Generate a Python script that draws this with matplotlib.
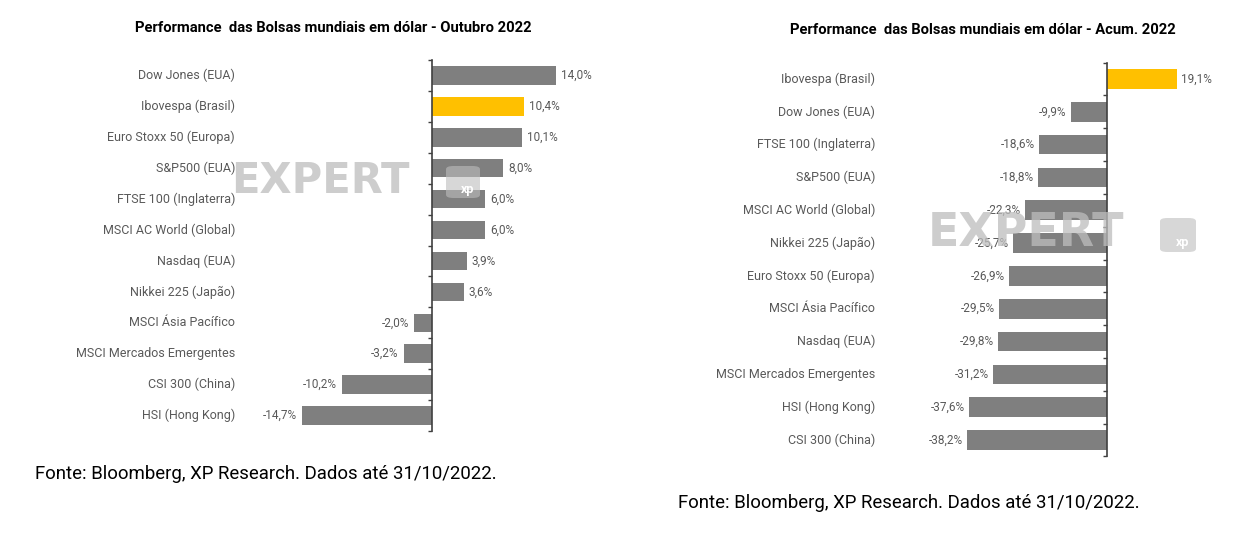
import matplotlib
matplotlib.use('Agg')
import matplotlib.pyplot as plt
from matplotlib.transforms import blended_transform_factory
from matplotlib.patches import FancyBboxPatch

plt.rcParams['font.family'] = ['Roboto', 'DejaVu Sans']

# dados - outubro 2022
oct_names = ["Dow Jones (EUA)", "Ibovespa (Brasil)", "Euro Stoxx 50 (Europa)", "S&P500 (EUA)",
             "FTSE 100 (Inglaterra)", "MSCI AC World (Global)", "Nasdaq (EUA)", "Nikkei 225 (Japão)",
             "MSCI Ásia Pacífico", "MSCI Mercados Emergentes", "CSI 300 (China)", "HSI (Hong Kong)"]
oct_values = [14.0, 10.4, 10.1, 8.0, 6.0, 6.0, 3.9, 3.6, -2.0, -3.2, -10.2, -14.7]

# dados - acumulado 2022
ytd_names = ["Ibovespa (Brasil)", "Dow Jones (EUA)", "FTSE 100 (Inglaterra)", "S&P500 (EUA)",
             "MSCI AC World (Global)", "Nikkei 225 (Japão)", "Euro Stoxx 50 (Europa)", "MSCI Ásia Pacífico",
             "Nasdaq (EUA)", "MSCI Mercados Emergentes", "HSI (Hong Kong)", "CSI 300 (China)"]
ytd_values = [19.1, -9.9, -18.6, -18.8, -22.3, -25.7, -26.9, -29.5, -29.8, -31.2, -37.6, -38.2]

highlight = "Ibovespa (Brasil)"
titles = ["Performance  das Bolsas mundiais em dólar - Outubro 2022",
          "Performance  das Bolsas mundiais em dólar - Acum. 2022"]
source = "Fonte: Bloomberg, XP Research. Dados até 31/10/2022."

W, H = 1246, 538
GRAY = "#7f7f7f"
YELLOW = "#ffc000"
TXT = "#595959"

fig = plt.figure(figsize=(W / 100, H / 100), dpi=100)


def px(x, y):
    return x / W, 1 - y / H


def panel(rect, names, values, xlim, label_x, pad):
    ax = fig.add_axes(rect)
    n = len(names)
    ys = list(range(n))
    colors = [YELLOW if nm == highlight else GRAY for nm in names]
    ax.barh(ys, values, height=0.6, color=colors, zorder=2)
    ax.set_xlim(*xlim)
    ax.set_ylim(n - 0.5, -0.5)

    for s in ["top", "right", "bottom"]:
        ax.spines[s].set_visible(False)
    ax.spines["left"].set_position(("data", 0))
    ax.spines["left"].set_color("#404040")
    ax.spines["left"].set_linewidth(1.2)
    ax.spines["left"].set_zorder(3)
    ax.set_xticks([])
    ax.set_yticks([i - 0.5 for i in range(n + 1)])
    ax.set_yticklabels([])
    ax.tick_params(axis="y", length=3, direction="out", color="#404040", width=1)

    tr = blended_transform_factory(fig.transFigure, ax.transData)
    for y, nm in zip(ys, names):
        ax.text(label_x / W, y, nm, transform=tr, ha="right", va="center",
                fontsize=9, color=TXT)
    for y, v in zip(ys, values):
        lab = f"{v:.1f}".replace(".", ",") + "%"
        off = pad if v >= 0 else -pad
        ax.annotate(lab, (v, y), xytext=(off, 0), textcoords="offset pixels",
                    ha="left" if v >= 0 else "right", va="center",
                    fontsize=8.5, color=TXT)
    return ax


def watermark(x, y, size):
    fig.text(*px(x, y), "EXPERT", fontsize=size, fontweight="bold", color="#bdbdbd",
             family="DejaVu Sans", alpha=0.75, ha="left", va="center", zorder=10)


panel([290 / W, (H - 431) / H, 310 / W, 371 / H], oct_names, oct_values,
      (-16.03, 18.96), 235, 5)
panel([955 / W, (H - 456.4) / H, 275 / W, 393.8 / H], ytd_names, ytd_values,
      (-41.53, 33.61), 875, 4)

fig.text(*px(333, 28), titles[0], ha="center", va="center", fontsize=10.6, fontweight="bold")
fig.text(*px(983, 30), titles[1], ha="center", va="center", fontsize=10.6, fontweight="bold")

watermark(231, 181, 30)
watermark(928, 234, 33)
for bx, by, bw in [(446, 166, 34), (1160, 218, 36)]:
    x0, y0 = px(bx, by + bw - 2)
    box = FancyBboxPatch((x0, y0), bw / W, (bw - 2) / H, boxstyle="round,pad=0,rounding_size=0.006",
                         transform=fig.transFigure, facecolor="#bdbdbd", edgecolor="none",
                         alpha=0.6, zorder=10)
    fig.add_artist(box)
    fig.text(*px(bx + bw * 0.62, by + bw * 0.68), "xp", fontsize=9, fontweight="bold",
             color="white", ha="center", va="center", zorder=11)

fig.text(*px(35, 474), source, ha="left", va="center", fontsize=13.4, color="black")
fig.text(*px(678, 503), source, ha="left", va="center", fontsize=13.4, color="black")

fig.savefig("out.png", dpi=100, facecolor="white")
